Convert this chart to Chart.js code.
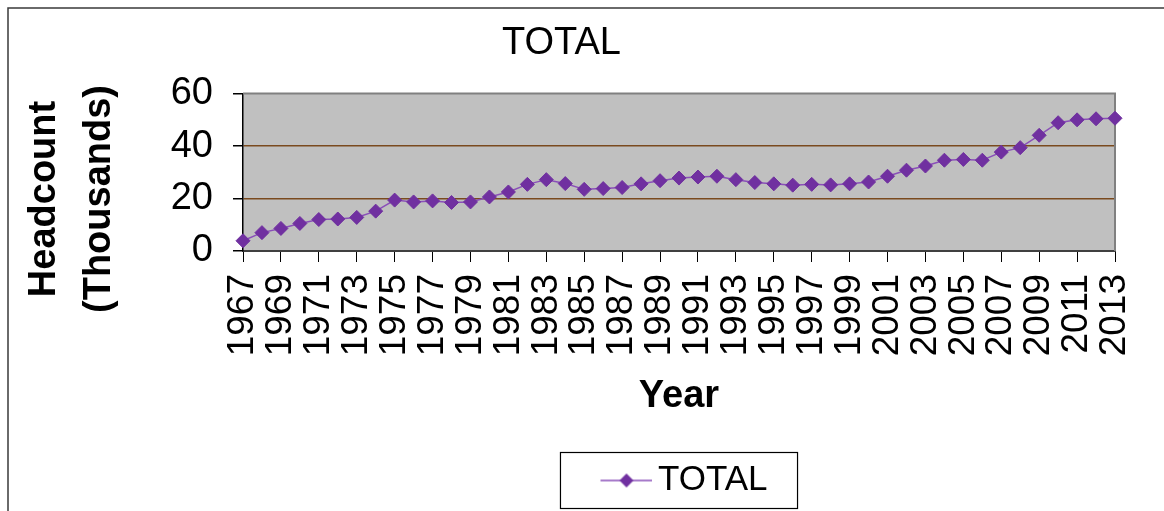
<!DOCTYPE html>
<html>
<head>
<meta charset="utf-8">
<title>TOTAL</title>
<script src="https://cdn.jsdelivr.net/npm/chart.js@4.4.1/dist/chart.umd.min.js"></script>
<style>
  body { margin: 0; background: #ffffff; }
  #wrap { width: 1164px; height: 511px; position: relative; }
</style>
</head>
<body>
<div id="wrap"><canvas id="headcountChart"></canvas></div>
<script>
// headcount by year, thousands
const years = [
  '1967', '1968', '1969', '1970', '1971', '1972', '1973', '1974', '1975', '1976',
  '1977', '1978', '1979', '1980', '1981', '1982', '1983', '1984', '1985', '1986',
  '1987', '1988', '1989', '1990', '1991', '1992', '1993', '1994', '1995', '1996',
  '1997', '1998', '1999', '2000', '2001', '2002', '2003', '2004', '2005', '2006',
  '2007', '2008', '2009', '2010', '2011', '2012', '2013'
];
const totals = [
  3.9, 7.0, 8.6, 10.5, 12.0, 12.2, 12.8, 15.2, 19.4, 18.7,
  19.1, 18.5, 18.7, 20.6, 22.5, 25.4, 27.2, 25.7, 23.5, 23.8,
  24.2, 25.6, 26.8, 27.8, 28.2, 28.5, 27.2, 26.1, 25.6, 25.1,
  25.4, 25.2, 25.6, 26.3, 28.5, 30.8, 32.4, 34.6, 34.9, 34.6,
  37.7, 39.4, 44.1, 48.9, 50.0, 50.4, 50.6
];
const yTicks = [0, 20, 40, 60];
const yTitle = ['Headcount', '(Thousands)'];

const purple = '#7030A0';
const lineColor = '#8a4fb8';
const font = 'Liberation Sans, Arial, sans-serif';

// legend symbol: short line with a diamond in the middle (left part of the image is empty)
const legendIcon = document.createElement('canvas');
legendIcon.width = 74;
legendIcon.height = 16;
(function() {
  const c = legendIcon.getContext('2d');
  c.strokeStyle = lineColor;
  c.lineWidth = 1.5;
  c.beginPath();
  c.moveTo(22, 8);
  c.lineTo(74, 8);
  c.stroke();
  c.fillStyle = purple;
  c.beginPath();
  c.moveTo(48, 1);
  c.lineTo(55, 8);
  c.lineTo(48, 15);
  c.lineTo(41, 8);
  c.closePath();
  c.fill();
})();

const frame = {
  id: 'frame',
  beforeDraw(chart) {
    const { ctx, chartArea: a } = chart;
    ctx.save();
    ctx.fillStyle = '#C0C0C0';
    ctx.fillRect(a.left, a.top, a.right - a.left, a.bottom - a.top);
    ctx.restore();
  },
  beforeDatasetsDraw(chart) {
    const { ctx, chartArea: a } = chart;
    ctx.save();
    ctx.strokeStyle = '#808080';
    ctx.lineWidth = 2;
    ctx.beginPath();
    ctx.moveTo(a.left, a.top);
    ctx.lineTo(a.right, a.top);
    ctx.lineTo(a.right, a.bottom);
    ctx.stroke();
    ctx.restore();
  },
  afterDraw(chart) {
    const ctx = chart.ctx;
    ctx.save();
    // outer chart border (only top and left fall inside the picture)
    ctx.strokeStyle = '#3a3a3a';
    ctx.lineWidth = 1.5;
    ctx.beginPath();
    ctx.moveTo(8, chart.height + 5);
    ctx.lineTo(8, 8);
    ctx.lineTo(chart.width + 5, 8);
    ctx.stroke();

    // y axis title, two bold lines
    ctx.fillStyle = '#000000';
    ctx.font = 'bold 38px ' + font;
    ctx.textAlign = 'center';
    ctx.textBaseline = 'middle';
    ctx.translate(0, 199);
    ctx.rotate(-Math.PI / 2);
    ctx.fillText(yTitle[0], 0, 45);
    ctx.fillText(yTitle[1], 0, 100);
    ctx.setTransform(1, 0, 0, 1, 0, 0);

    // box round the legend
    const hb = chart.legend.legendHitBoxes[0];
    if (hb) {
      ctx.strokeStyle = '#000000';
      ctx.lineWidth = 1.2;
      ctx.strokeRect(hb.left - 30, hb.top + hb.height / 2 - 28, hb.width + 60, 56);
    }
    ctx.restore();
  }
};

new Chart(document.getElementById('headcountChart'), {
  type: 'line',
  data: {
    labels: years,
    datasets: [{
      label: 'TOTAL',
      data: totals,
      borderColor: lineColor,
      borderWidth: 1.5,
      backgroundColor: purple,
      pointStyle: 'rectRot',
      pointRadius: 7,
      pointBorderWidth: 1,
      pointBorderColor: purple,
      pointBackgroundColor: purple,
      tension: 0,
      clip: false
    }]
  },
  options: {
    responsive: true,
    maintainAspectRatio: false,
    animation: false,
    layout: { padding: { left: 8, right: 49, top: 0, bottom: 3 } },
    plugins: {
      title: {
        display: true,
        text: 'TOTAL',
        color: '#000000',
        font: { family: font, size: 38, weight: 'normal' },
        padding: { top: 21, bottom: 27 }
      },
      legend: {
        display: true,
        position: 'bottom',
        fullSize: false,
        labels: {
          color: '#000000',
          font: { family: font, size: 35 },
          usePointStyle: true,
          pointStyleWidth: 50,
          boxHeight: 16,
          padding: 10,
          generateLabels: () => [{
            text: 'TOTAL',
            pointStyle: legendIcon,
            fillStyle: purple,
            strokeStyle: purple,
            lineWidth: 0,
            datasetIndex: 0
          }]
        }
      },
      tooltip: { enabled: false }
    },
    scales: {
      x: {
        offset: false,
        afterFit: (scale) => {
          scale.height = 202;
          // keep the plot's right edge set by the layout padding
          scale.paddingRight = Math.min(scale.paddingRight, 40);
        },
        border: { display: true, color: '#404040', width: 2 },
        grid: {
          drawOnChartArea: false,
          tickLength: 11,
          color: '#000000',
          tickColor: '#000000'
        },
        ticks: {
          autoSkip: false,
          maxRotation: 90,
          minRotation: 90,
          padding: 12,
          color: '#000000',
          font: { family: font, size: 37 },
          callback: function(value, index) {
            return index % 2 === 0 ? years[index] : null;
          }
        },
        title: {
          display: true,
          text: 'Year',
          color: '#000000',
          font: { family: font, size: 38, weight: 'bold' },
          padding: { top: 6, bottom: 34 }
        }
      },
      y: {
        min: 0,
        max: 60,
        afterFit: (scale) => { scale.width = 235; },
        afterBuildTicks: (scale) => { scale.ticks = yTicks.map(v => ({ value: v })); },
        border: { display: true, color: '#000000', width: 1.5 },
        grid: {
          drawOnChartArea: true,
          tickLength: 10,
          lineWidth: 1.5,
          tickColor: '#000000',
          color: (ctx) => (ctx.tick && (ctx.tick.value === 20 || ctx.tick.value === 40)) ? '#7a4a1e' : 'rgba(0,0,0,0)'
        },
        ticks: {
          padding: 20,
          color: '#000000',
          font: { family: font, size: 38 }
        },
        title: { display: false }
      }
    }
  },
  plugins: [frame]
});
</script>
</body>
</html>
